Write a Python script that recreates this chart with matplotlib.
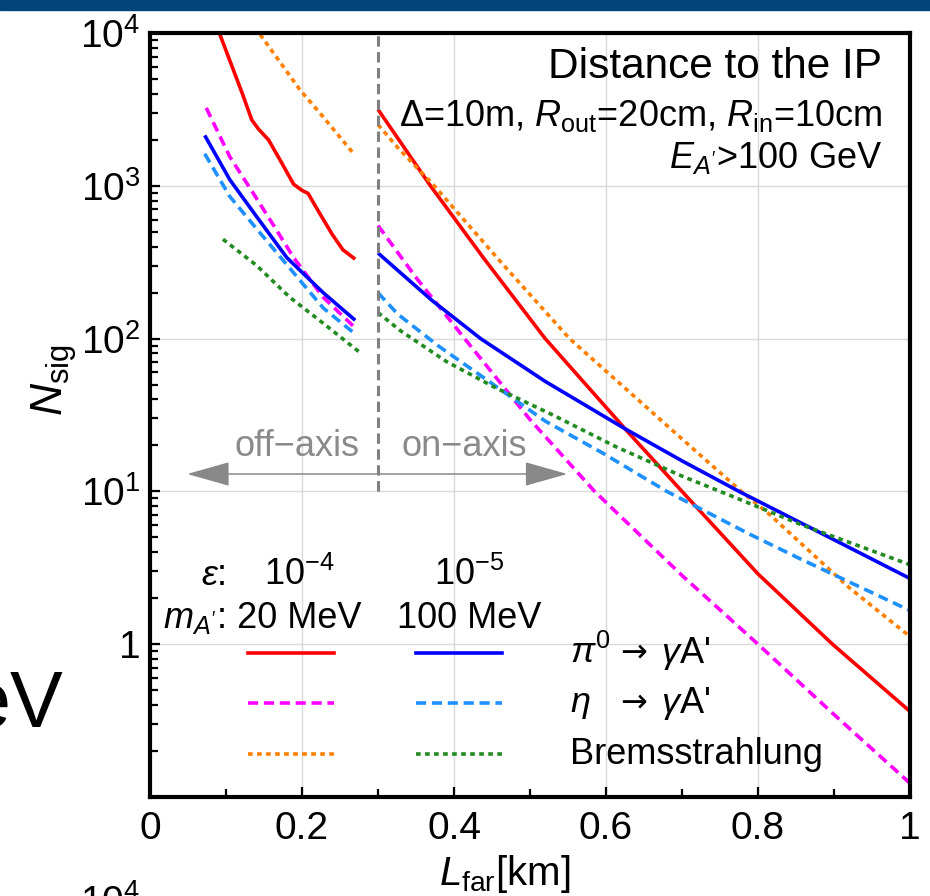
import numpy as np
import matplotlib
matplotlib.use("Agg")
import matplotlib.pyplot as plt
from matplotlib.ticker import LogLocator, NullFormatter, MultipleLocator
from matplotlib.patches import Rectangle

plt.rcParams['font.family'] = ['Liberation Sans', 'DejaVu Sans']
plt.rcParams['mathtext.fontset'] = 'custom'
plt.rcParams['mathtext.rm'] = 'Liberation Sans'
plt.rcParams['mathtext.it'] = 'Liberation Sans:italic'
plt.rcParams['mathtext.bf'] = 'Liberation Sans:bold'
plt.rcParams['mathtext.fallback'] = 'stixsans'

# ---- data (x in km, values as log10 N_sig) ----
# off-axis part (L_far < 0.3 km)
red_off_x = [0.092, 0.121, 0.134, 0.143, 0.156, 0.171, 0.189, 0.200, 0.208, 0.222, 0.240, 0.254, 0.270]
red_off_log = [3.99, 3.61, 3.43, 3.37, 3.30, 3.17, 3.01, 2.97, 2.95, 2.83, 2.68, 2.58, 2.52]
magenta_off_x = [0.074, 0.105, 0.136, 0.164, 0.189, 0.228, 0.270]
magenta_off_log = [3.51, 3.19, 2.95, 2.73, 2.53, 2.27, 2.07]
orange_off_x = [0.145, 0.197, 0.228, 0.268]
orange_off_log = [3.99, 3.63, 3.45, 3.21]
blue_off_x = [0.072, 0.105, 0.140, 0.180, 0.228, 0.270]
blue_off_log = [3.33, 3.04, 2.80, 2.53, 2.30, 2.12]
lblue_off_x = [0.072, 0.105, 0.140, 0.184, 0.228, 0.270]
lblue_off_log = [3.21, 2.93, 2.72, 2.46, 2.20, 2.03]
green_off_x = [0.096, 0.140, 0.184, 0.228, 0.276]
green_off_log = [2.65, 2.48, 2.27, 2.10, 1.91]

# on-axis part (L_far >= 0.3 km)
red_on_x = [0.30, 0.369, 0.44, 0.52, 0.625, 0.70, 0.80, 0.898, 1.0]
red_on_log = [3.50, 3.00, 2.52, 2.00, 1.41, 1.00, 0.46, 0.00, -0.44]
magenta_on_x = [0.30, 0.35, 0.414, 0.50, 0.585, 0.70, 0.80, 0.90, 1.0]
magenta_on_log = [2.74, 2.40, 2.00, 1.47, 1.00, 0.45, 0.00, -0.46, -0.91]
orange_on_x = [0.30, 0.326, 0.374, 0.46, 0.552, 0.703, 0.778, 0.815, 0.92, 1.0]
orange_on_log = [3.40, 3.25, 3.00, 2.51, 2.00, 1.33, 1.00, 0.85, 0.37, 0.05]
blue_on_x = [0.30, 0.371, 0.435, 0.52, 0.625, 0.70, 0.775, 0.858, 1.0]
blue_on_log = [2.56, 2.25, 2.00, 1.72, 1.41, 1.20, 1.00, 0.79, 0.43]
lblue_on_x = [0.30, 0.326, 0.38, 0.446, 0.52, 0.596, 0.68, 0.789, 0.855, 1.0]
lblue_on_log = [2.30, 2.16, 1.95, 1.72, 1.46, 1.25, 1.00, 0.72, 0.56, 0.22]
green_on_x = [0.30, 0.33, 0.39, 0.454, 0.53, 0.614, 0.70, 0.77, 0.858, 1.0]
green_on_log = [2.17, 2.05, 1.85, 1.68, 1.50, 1.29, 1.10, 0.96, 0.78, 0.52]

x_ticks = [0, 0.2, 0.4, 0.6, 0.8, 1.0]
x_labels = ['0', '0.2', '0.4', '0.6', '0.8', '1']
y_ticks = [1, 10, 100, 1000, 10000]
y_labels = ['1', '$10^1$', '$10^2$', '$10^3$', '$10^4$']

# styles
c_red, c_mag, c_ora = '#ff0000', '#ff00ff', '#ff8000'
c_blue, c_lblue, c_green = '#0000ff', '#1e90ff', '#228b22'
lw = 2.6
dash = (0, (2.8, 1.6))
dot = (0, (1.3, 1.2))

fig = plt.figure(figsize=(9.3, 8.96), dpi=100)
ax = fig.add_axes([150 / 930, 99 / 896, 760 / 930, 764 / 896])

def curve(xs, logs, color, ls):
    ax.plot(xs, 10 ** np.array(logs), color=color, ls=ls, lw=lw, solid_capstyle='butt')

for xs, ys, c, ls in [
    (red_off_x, red_off_log, c_red, '-'), (red_on_x, red_on_log, c_red, '-'),
    (magenta_off_x, magenta_off_log, c_mag, dash), (magenta_on_x, magenta_on_log, c_mag, dash),
    (orange_off_x, orange_off_log, c_ora, dot), (orange_on_x, orange_on_log, c_ora, dot),
    (blue_off_x, blue_off_log, c_blue, '-'), (blue_on_x, blue_on_log, c_blue, '-'),
    (lblue_off_x, lblue_off_log, c_lblue, dash), (lblue_on_x, lblue_on_log, c_lblue, dash),
    (green_off_x, green_off_log, c_green, dot), (green_on_x, green_on_log, c_green, dot),
]:
    curve(xs, ys, c, ls)

# separation off-/on-axis
ax.plot([0.3, 0.3], [10, 1e4], color='#808080', ls=(0, (3.4, 1.8)), lw=2.2)
for x_head in (0.049, 0.549):
    ax.annotate('', xy=(x_head, 13), xytext=(0.3, 13),
                arrowprops=dict(arrowstyle='-|>,head_length=0.85,head_width=0.24',
                                color='#888888', lw=1.1, mutation_scale=32, shrinkA=0, shrinkB=0))
ax.text(0.193, 17, 'off\u2212axis', color='#8a8a8a', fontsize=26, ha='center', va='baseline')
ax.text(0.414, 17, 'on\u2212axis', color='#8a8a8a', fontsize=26, ha='center', va='baseline')

# axes styling
ax.set_yscale('log')
ax.set_xlim(0, 1)
ax.set_ylim(0.1, 1e4)
ax.set_xticks(x_ticks, labels=x_labels)
ax.xaxis.set_minor_locator(MultipleLocator(0.1))
ax.set_yticks(y_ticks, labels=y_labels)
ax.yaxis.set_minor_locator(LogLocator(base=10, subs=np.arange(2, 10)))
ax.yaxis.set_minor_formatter(NullFormatter())
ax.tick_params(which='both', direction='in', top=False, right=False, width=1.6, labelsize=28)
ax.tick_params(which='major', length=7)
ax.tick_params(which='minor', length=5.5)
ax.tick_params(axis='x', pad=10)
ax.tick_params(axis='y', pad=7)
ax.grid(True, which='major', color='#d9d9d9', lw=1.0)
ax.set_axisbelow(True)
for s in ax.spines.values():
    s.set_linewidth(3)

ax.set_xlabel(r'$L_{\rm far}$[km]', fontsize=29)
ax.xaxis.set_label_coords(0.467, -0.073)
ax.set_ylabel(r'$N_{\rm sig}$', fontsize=32)
ax.yaxis.set_label_coords(-0.094, 0.546)

# info text top right
ax.text(0.963, 0.941, 'Distance to the IP', transform=ax.transAxes, fontsize=30.5, ha='right', va='baseline')
ax.text(0.963, 0.878, r'Δ=10m, $R_{\rm out}$=20cm, $R_{\rm in}$=10cm', transform=ax.transAxes,
        fontsize=26, ha='right', va='baseline')
ax.text(0.963, 0.823, r"$E_{A'}$>100 GeV", transform=ax.transAxes, fontsize=26, ha='right', va='baseline')

# hand-made legend
ax.text(0.099, 0.277, r'$\epsilon$:', transform=ax.transAxes, fontsize=26, ha='right', va='baseline')
ax.text(0.197, 0.277, r'$10^{-4}$', transform=ax.transAxes, fontsize=26, ha='center', va='baseline')
ax.text(0.420, 0.277, r'$10^{-5}$', transform=ax.transAxes, fontsize=26, ha='center', va='baseline')
ax.text(0.099, 0.221, r"$m_{A'}$:", transform=ax.transAxes, fontsize=26, ha='right', va='baseline')
ax.text(0.197, 0.221, '20 MeV', transform=ax.transAxes, fontsize=26, ha='center', va='baseline')
ax.text(0.420, 0.221, '100 MeV', transform=ax.transAxes, fontsize=26, ha='center', va='baseline')

rows_y = [0.188, 0.123, 0.056]
left_cols = [(c_red, '-'), (c_mag, dash), (c_ora, dot)]
right_cols = [(c_blue, '-'), (c_lblue, dash), (c_green, dot)]
row_heads = [r'$\pi^0$', r'$\eta$', 'Bremsstrahlung']
for ry, (cl, lsl), (cr, lsr), head in zip(rows_y, left_cols, right_cols, row_heads):
    ax.plot([0.129, 0.242], [ry, ry], transform=ax.transAxes, color=cl, ls=lsl, lw=lw)
    ax.plot([0.350, 0.463], [ry, ry], transform=ax.transAxes, color=cr, ls=lsr, lw=lw)
    ax.text(0.553, ry, head, transform=ax.transAxes, fontsize=26, ha='left', va='center')
    if head != 'Bremsstrahlung':
        ax.text(0.619, ry, '\u2192', transform=ax.transAxes, fontsize=23, ha='left', va='center',
                family='DejaVu Sans')
        ax.text(0.673, ry, r"$\gamma$A'", transform=ax.transAxes, fontsize=26, ha='left', va='center')

# pieces of the surrounding slide
fig.patches.append(Rectangle((0, 1 - 10 / 896), 1, 10 / 896, transform=fig.transFigure,
                             color='#03457a', zorder=10))
fig.text(63 / 930, 1 - 727 / 896, 'eV', fontsize=57, ha='right', va='baseline')
fig.text(110 / 930, 1 - 884 / 896, '$10^4$', fontsize=28, ha='center', va='top')

fig.savefig('out.png', dpi=100)
